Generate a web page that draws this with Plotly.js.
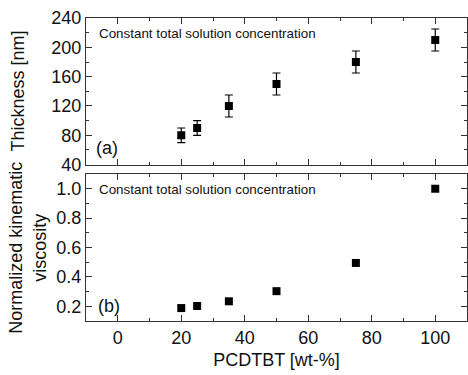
<!DOCTYPE html>
<html><head><meta charset="utf-8">
<script src="https://cdn.plot.ly/plotly-3.0.1.min.js"></script>
<style>html,body{margin:0;padding:0;background:#fff}#c{width:468px;height:375px}</style>
</head><body><div id="c"></div>
<script>
const pcdtbt = [20, 25, 35, 50, 75, 100];
const thickness = [80, 90, 120, 150, 180, 210];
const thicknessErr = [10, 10, 15, 15, 15, 15];
const viscosity = [0.188, 0.202, 0.234, 0.303, 0.495, 1.0];

const F = 'Liberation Sans, Arial, sans-serif';
const axCommon = {
  showline: true, linecolor: '#333', linewidth: 1, mirror: 'ticks',
  ticks: 'inside', ticklen: 6, tickcolor: '#333', tickwidth: 1,
  showgrid: false, zeroline: false,
  tickfont: {family: F, size: 18, color: '#111'}
};
const traces = [
  {x: pcdtbt, y: thickness, type: 'scatter', mode: 'markers', xaxis: 'x', yaxis: 'y',
   marker: {symbol: 'square', size: 8, color: '#000'},
   error_y: {type: 'data', array: thicknessErr, visible: true, color: '#000', thickness: 1.2, width: 4}},
  {x: pcdtbt, y: viscosity, type: 'scatter', mode: 'markers', xaxis: 'x2', yaxis: 'y2',
   marker: {symbol: 'square', size: 8, color: '#000'}}
];
const layout = {
  width: 468, height: 375, margin: {l: 86, r: 1, t: 18, b: 54},
  paper_bgcolor: '#fff', plot_bgcolor: '#fff', showlegend: false,
  xaxis: Object.assign({}, axCommon, {domain: [0, 1], range: [-10, 110], anchor: 'y', showticklabels: false,
    dtick: 20, tick0: 0, minor: {ticks: 'inside', dtick: 10, ticklen: 3, tickcolor: '#333'}}),
  yaxis: Object.assign({}, axCommon, {domain: [0.516, 1], range: [40, 240], anchor: 'x', dtick: 40, tick0: 40,
    minor: {ticks: 'inside', dtick: 20, ticklen: 3, tickcolor: '#333'}}),
  xaxis2: Object.assign({}, axCommon, {domain: [0, 1], range: [-10, 110], anchor: 'y2', dtick: 20, tick0: 0,
    minor: {ticks: 'inside', dtick: 10, ticklen: 3, tickcolor: '#333'},
    title: {text: 'PCDTBT [wt-%]', font: {family: F, size: 18, color: '#111'}, standoff: 6}}),
  yaxis2: Object.assign({}, axCommon, {domain: [0, 0.485], range: [0.1, 1.1], anchor: 'x2', dtick: 0.2, tick0: 0.2,
    tickformat: '.1f', minor: {ticks: 'inside', dtick: 0.1, ticklen: 3, tickcolor: '#333'}}),
  annotations: [
    {text: 'Thickness [nm]', xref: 'paper', yref: 'paper', x: -0.178, y: 0.758, textangle: -90,
     showarrow: false, xanchor: 'center', yanchor: 'middle', font: {family: F, size: 18, color: '#111'}},
    {text: 'Normalized kinematic<br>viscosity', xref: 'paper', yref: 'paper', x: -0.152, y: 0.242, textangle: -90,
     showarrow: false, xanchor: 'center', yanchor: 'middle', font: {family: F, size: 18, color: '#111'}},
    {text: 'Constant total solution concentration', xref: 'paper', yref: 'paper', x: 0.029, y: 0.95,
     showarrow: false, xanchor: 'left', yanchor: 'middle', font: {family: F, size: 13.4, color: '#111'}},
    {text: 'Constant total solution concentration', xref: 'paper', yref: 'paper', x: 0.029, y: 0.433,
     showarrow: false, xanchor: 'left', yanchor: 'middle', font: {family: F, size: 13.4, color: '#111'}},
    {text: '(a)', xref: 'paper', yref: 'paper', x: 0.022, y: 0.57,
     showarrow: false, xanchor: 'left', yanchor: 'middle', font: {family: F, size: 18, color: '#111'}},
    {text: '(b)', xref: 'paper', yref: 'paper', x: 0.027, y: 0.05,
     showarrow: false, xanchor: 'left', yanchor: 'middle', font: {family: F, size: 18, color: '#111'}}
  ]
};
Plotly.newPlot('c', traces, layout, {staticPlot: true, displayModeBar: false});
</script></body></html>
